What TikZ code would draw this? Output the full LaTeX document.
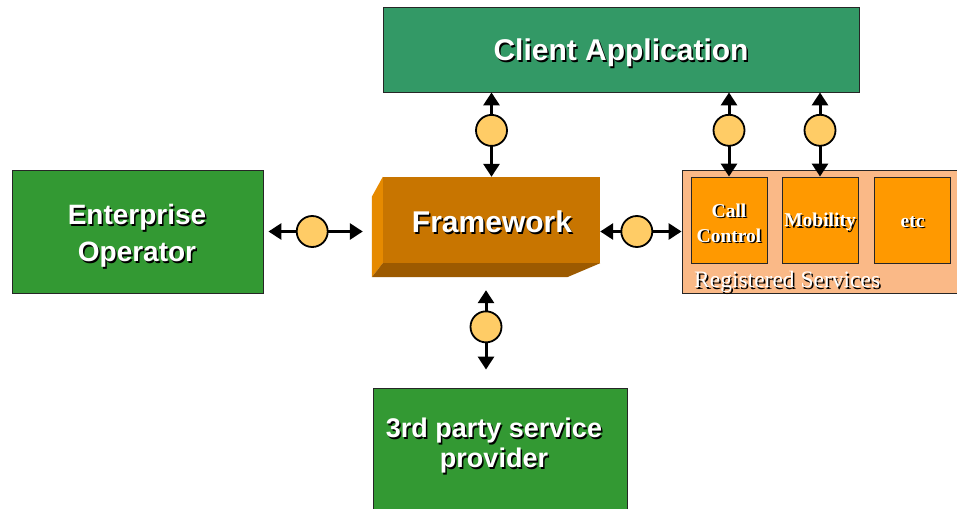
\documentclass[tikz,border=0pt]{standalone}
\usepackage{fontspec}
\setmainfont{Liberation Sans}
\newfontfamily\servfont{Liberation Serif}
\usetikzlibrary{arrows.meta,calc}

\definecolor{appgreen}{RGB}{51,153,102}
\definecolor{boxgreen}{RGB}{51,153,51}
\definecolor{fwfront}{RGB}{200,117,0}
\definecolor{fwside}{RGB}{230,138,0}
\definecolor{fwbottom}{RGB}{156,90,0}
\definecolor{regpeach}{RGB}{250,185,135}
\definecolor{svcorange}{RGB}{255,153,0}
\definecolor{portfill}{RGB}{255,204,102}

% white caption with a dark drop shadow
\newcommand{\shadowlabel}[5][]{%
  \node[caption, text=black, font=#4, #1] (#2-shade) at ($(#3)+(1.5,1.5)$) {#5};
  \node[caption, text=white, font=#4, #1] (#2) at (#3) {#5};
}

\tikzset{
  caption/.style={align=center, inner sep=0pt},
  plainbox/.style={draw=black!85, line width=0.9pt, inner sep=0pt},
  svcbox/.style={plainbox, fill=svcorange, minimum width=76pt, minimum height=86pt},
  port/.style={circle, draw=black, line width=1.8pt, fill=portfill, minimum size=31pt, inner sep=0pt},
  biarrow/.style={line width=3pt, {Triangle[length=13pt,width=16pt]}-{Triangle[length=13pt,width=16pt]}},
}

\begin{document}
\begin{tikzpicture}[x=1pt, y=-1pt]
\useasboundingbox (0,0) rectangle (957,508);
\clip (0,0) rectangle (957,508);

% main blocks
\node[plainbox, fill=appgreen, minimum width=476pt, minimum height=85pt] (client) at (621,49.5) {};
\node[plainbox, fill=boxgreen, minimum width=251pt, minimum height=123pt] (ent) at (137.5,231.5) {};
\node[plainbox, fill=boxgreen, minimum width=254pt, minimum height=152pt] (third) at (500,464) {};

% framework block drawn as a bevelled slab
\node[fill=fwfront, minimum width=217pt, minimum height=86pt, inner sep=0pt] (fw) at (491.5,220) {};
\fill[fwside] (fw.north west) -- ++(-11,20) -- ($(fw.south west)+(-11,14)$) -- (fw.south west) -- cycle;
\fill[fwbottom] (fw.south west) -- (fw.south east) -- ++(-33,14) -- ($(fw.south west)+(-11,14)$) -- cycle;
\coordinate (fwside) at ($(fw.west)+(-11,0)$);
\coordinate (fwbase) at ($(fw.south)+(-5.5,14)$);

% registered services group
\node[plainbox, fill=regpeach, minimum width=300pt, minimum height=123pt] (reg) at (832,231.5) {};
\node[svcbox] (call) at (729,220) {};
\node[svcbox] (mob) at (820,220) {};
\node[svcbox] (etc) at (912.5,220) {};

% connectors with their interface points
\draw[biarrow] (client.south -| fw.north) -- (fw.north);
\draw[biarrow] (client.south -| call.north) -- (call.north);
\draw[biarrow] (client.south -| mob.north) -- (mob.north);
\draw[biarrow, shorten <=5pt, shorten >=9pt] (ent.east) -- (ent.east -| fwside);
\draw[biarrow] (fw.east |- reg.west) -- (reg.west);
\draw[biarrow, shorten <=13pt, shorten >=18pt] (fwbase) -- (fwbase |- third.north);

\node[port] (p-client) at ($(client.south -| fw.north)!0.45!(fw.north)$) {};
\node[port] (p-call) at ($(client.south -| call.north)!0.45!(call.north)$) {};
\node[port] (p-mob) at ($(client.south -| mob.north)!0.45!(mob.north)$) {};
\node[port] (p-ent) at ($(ent.east)!0.45!(ent.east -| fwside)$) {};
\node[port] (p-reg) at ($(fw.east |- reg.west)!0.45!(reg.west)$) {};
\node[port] (p-third) at ($(fwbase)!0.45!(fwbase |- third.north)$) {};

% captions
\shadowlabel{t-client}{621,53}{\fontsize{30}{36}\selectfont\bfseries}{Client Application}
\shadowlabel{t-fw}{492,222}{\fontsize{30}{36}\selectfont\bfseries}{Framework}
\shadowlabel{t-ent}{137,236}{\fontsize{28}{37}\selectfont\bfseries}{Enterprise\\Operator}
\shadowlabel{t-third}{494,446}{\fontsize{27}{30}\selectfont\bfseries}{3rd party service\\provider}
\shadowlabel{t-call}{729,223}{\fontsize{19.5}{25}\selectfont\servfont\bfseries}{Call\\Control}
\shadowlabel{t-mob}{820,222}{\fontsize{19.5}{25}\selectfont\servfont\bfseries}{Mobility}
\shadowlabel{t-etc}{912.5,222}{\fontsize{19.5}{25}\selectfont\servfont\bfseries}{etc}
\shadowlabel[anchor=west]{t-reg}{694,282}{\fontsize{23.5}{28}\selectfont\servfont}{Registered Services}
\end{tikzpicture}
\end{document}
